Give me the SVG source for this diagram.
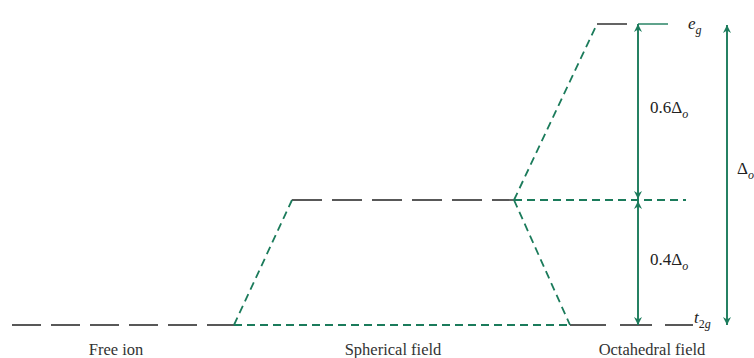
<svg xmlns="http://www.w3.org/2000/svg" width="754" height="358" viewBox="0 0 754 358">
<defs>
<style>
.lvl{stroke:#222;stroke-width:1.4;fill:none}
.gd{stroke:#1b7b5b;stroke-width:1.8;fill:none;stroke-dasharray:8 5}
.ar{stroke:#1b7b5b;stroke-width:1.9;fill:none}
.lab{font-family:"Liberation Serif","Times New Roman","DejaVu Serif",serif;font-size:16.5px;fill:#333}
.sym{font-family:"Liberation Serif","Times New Roman","DejaVu Serif",serif;font-size:17px;fill:#222}
.it{font-style:italic}
</style>
<marker id="ah" viewBox="0 0 10 10" refX="10" refY="5" markerWidth="8" markerHeight="10" markerUnits="userSpaceOnUse" orient="auto-start-reverse">
<path d="M0,0 L10,5 L0,10 L3,5 Z" fill="#1b7b5b"/>
</marker>
</defs>
<rect width="754" height="358" fill="#fff"/>
<g id="free-ion">
<path class="lvl" d="M12,325H234" stroke-dasharray="29 10"/>
<text class="lab" x="116" y="355" text-anchor="middle">Free ion</text>
</g>
<g id="spherical">
<path class="lvl" d="M292,200H514" stroke-dasharray="30 10"/>
<text class="lab" x="393" y="355" text-anchor="middle">Spherical field</text>
</g>
<g id="eg">
<path class="lvl" d="M597,24H627"/>
<path d="M638,24H668" stroke="#1b7b5b" stroke-width="1.4"/>
<text class="sym" x="688" y="29"><tspan class="it">e</tspan><tspan class="it" font-size="12" dy="5">g</tspan></text>
</g>
<g id="t2g">
<path class="lvl" d="M570,325H606M620,325H652M665,325H693"/>
<text class="sym" x="694" y="323"><tspan class="it">t</tspan><tspan font-size="12" dy="5">2</tspan><tspan class="it" font-size="12">g</tspan></text>
<text class="lab" x="652" y="355" text-anchor="middle">Octahedral field</text>
</g>
<g id="connectors">
<path class="gd" d="M234,325L292,200"/>
<path class="gd" d="M234,325H570"/>
<path class="gd" d="M514,200L597,24"/>
<path class="gd" d="M514,200H686"/>
<path class="gd" d="M514,200L570,325"/>
<path class="ar" d="M638,199V24" marker-start="url(#ah)" marker-end="url(#ah)"/>
<path class="ar" d="M638,201V325" marker-start="url(#ah)" marker-end="url(#ah)"/>
<path class="ar" d="M727,25V325" marker-start="url(#ah)" marker-end="url(#ah)"/>
</g>
<g id="labels">
<text class="sym" x="650" y="113">0.6Δ<tspan class="it" font-size="12" dy="5">o</tspan></text>
<text class="sym" x="650" y="265">0.4Δ<tspan class="it" font-size="12" dy="5">o</tspan></text>
<text class="sym" x="737" y="174">Δ<tspan class="it" font-size="12" dy="5">o</tspan></text>
</g>
</svg>
